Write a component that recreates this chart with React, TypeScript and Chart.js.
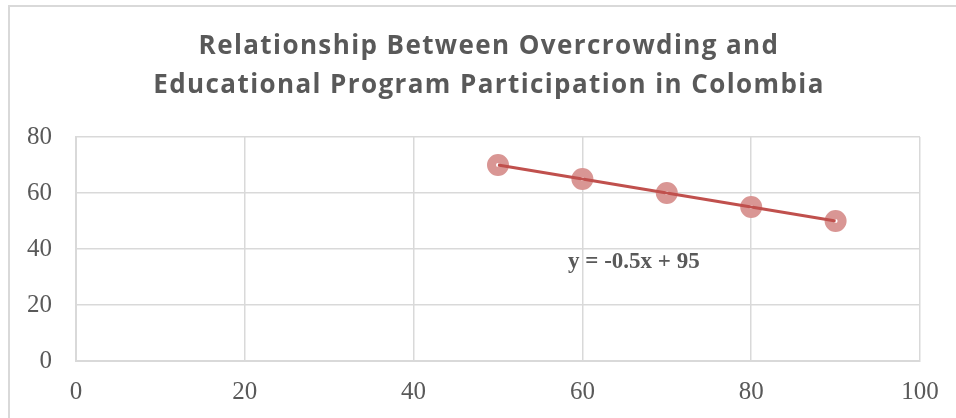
import React, { useEffect, useRef } from "react";
import { Chart, registerables } from "chart.js";

Chart.register(...registerables);

const titleLines = [
  "Relationship Between Overcrowding and",
  "Educational Program Participation in Colombia",
];
const overcrowding = [50, 60, 70, 80, 90];
const participation = [70, 65, 60, 55, 50];
const trendX = [50, 90];
const trendY = [70, 50];
const trendLabel = "y = -0.5x + 95";
const trendLabelPos = [58.3, 35.4];
const xTicks = [0, 20, 40, 60, 80, 100];
const yTicks = [0, 20, 40, 60, 80];

export default function App() {
  const ref = useRef<HTMLCanvasElement | null>(null);

  useEffect(() => {
    if (!ref.current) return;
    const textPlugin = {
      id: "texts",
      afterDraw(chart: any) {
        const ctx = chart.ctx;
        ctx.save();
        ctx.fillStyle = "#595959";
        ctx.font = "bold 26px 'Open Sans'";
        (ctx as any).letterSpacing = "1.4px";
        ctx.textAlign = "center";
        ctx.textBaseline = "middle";
        ctx.fillText(titleLines[0], 489, 47);
        ctx.fillText(titleLines[1], 489, 86);
        (ctx as any).letterSpacing = "0px";
        const xs = chart.scales.x;
        const ys = chart.scales.y;
        ctx.font = "bold 23px 'Liberation Serif'";
        ctx.textAlign = "left";
        ctx.fillText(
          trendLabel,
          xs.getPixelForValue(trendLabelPos[0]),
          ys.getPixelForValue(trendLabelPos[1])
        );
        ctx.restore();
      },
    };
    const chart = new Chart(ref.current, {
      type: "scatter",
      data: {
        datasets: [
          {
            type: "line",
            label: "Trend",
            data: trendX.map((x, i) => ({ x, y: trendY[i] })),
            borderColor: "#c0504d",
            borderWidth: 3,
            pointRadius: 0,
            fill: false,
            order: 0,
          },
          {
            label: "Data",
            data: overcrowding.map((x, i) => ({ x, y: participation[i] })),
            pointRadius: 6.5,
            pointBorderWidth: 9,
            pointBackgroundColor: "#ffffff",
            pointBorderColor: "#d99694",
            order: 1,
          },
        ],
      },
      options: {
        animation: false,
        responsive: false,
        layout: { padding: { left: 0, top: 137, right: 36, bottom: 0 } },
        plugins: {
          legend: { display: false },
          tooltip: { enabled: false },
          title: { display: false },
        },
        scales: {
          x: {
            type: "linear",
            min: 0,
            max: 100,
            afterBuildTicks: (s: any) => {
              s.ticks = xTicks.map((v) => ({ value: v }));
            },
            afterFit: (s: any) => {
              s.height = 57;
            },
            grid: { color: "#d9d9d9", lineWidth: 1.5, drawTicks: false },
            border: { color: "#d9d9d9", width: 2 },
            ticks: {
              color: "#595959",
              font: { family: "'Liberation Serif'", size: 25 },
              padding: 16,
              maxRotation: 0,
            },
          },
          y: {
            type: "linear",
            min: 0,
            max: 80,
            afterBuildTicks: (s: any) => {
              s.ticks = yTicks.map((v) => ({ value: v }));
            },
            afterFit: (s: any) => {
              s.width = 76;
            },
            grid: { color: "#d9d9d9", lineWidth: 1.5, drawTicks: false },
            border: { color: "#d9d9d9", width: 2 },
            ticks: {
              color: "#595959",
              font: { family: "'Liberation Serif'", size: 25 },
              padding: 24,
            },
          },
        },
      },
      plugins: [textPlugin],
    });
    return () => chart.destroy();
  }, []);

  return (
    <div style={{ position: "fixed", left: 0, top: 0, width: 956, height: 418, background: "#fff", overflow: "hidden" }}>
      <div
        style={{
          position: "absolute",
          left: 8,
          top: 5,
          width: 1000,
          height: 500,
          borderLeft: "2px solid #d9d9d9",
          borderTop: "2px solid #d9d9d9",
        }}
      />
      <canvas ref={ref} width={956} height={418} style={{ position: "absolute", left: 0, top: 0 }} />
    </div>
  );
}
